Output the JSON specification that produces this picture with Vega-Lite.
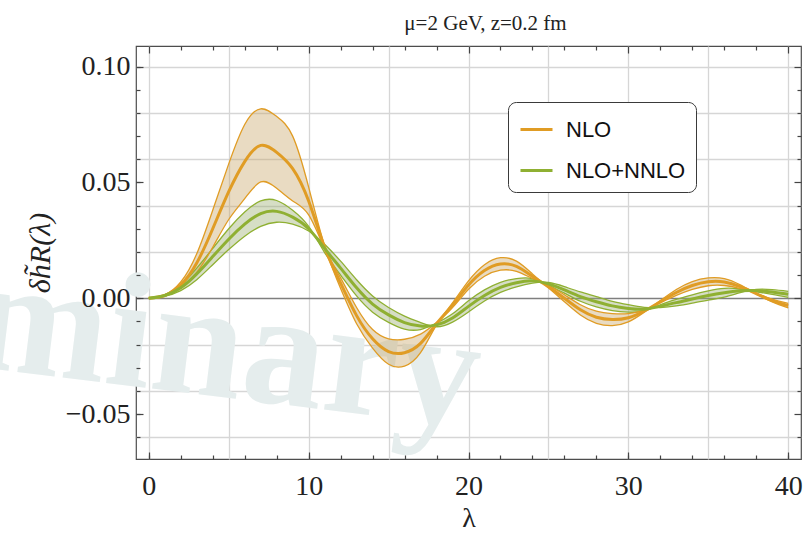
{
  "$schema": "https://vega.github.io/schema/vega-lite/v6.json",
  "width": 665,
  "height": 413,
  "autosize": {"type": "none"},
  "padding": {"left": 136, "top": 46, "right": 6, "bottom": 77},
  "background": "white",
  "title": {"text": "μ=2 GeV, z=0.2 fm", "font": "Liberation Serif", "fontSize": 21, "fontWeight": "normal", "color": "#222222", "offset": 11, "dx": 17},
  "config": {
    "view": {"stroke": "#4d4d4d", "strokeWidth": 1.2},
    "legend": {"orient": "none", "legendX": 372, "legendY": 56, "direction": "vertical",
      "symbolType": "stroke", "symbolSize": 1024, "symbolStrokeWidth": 3,
      "labelFont": "Liberation Sans", "labelFontSize": 22, "labelColor": "#111111", "labelOffset": 12,
      "rowPadding": 12, "padding": 10, "symbolOffset": 1,
      "strokeColor": "#3a3a3a", "fillColor": "white", "cornerRadius": 8}
  },
  "resolve": {"axis": {"x": "independent", "y": "independent"}},
  "data": {"values": [
    {"l":0,"s":"NLO","c":0,"a":0,"b":0},
    {"l":1,"s":"NLO","c":0.0012,"a":0.0015,"b":0.0009},
    {"l":2,"s":"NLO","c":0.0057,"a":0.0070,"b":0.0044},
    {"l":3,"s":"NLO","c":0.0152,"a":0.0192,"b":0.0112},
    {"l":4,"s":"NLO","c":0.0300,"a":0.0380,"b":0.0220},
    {"l":5,"s":"NLO","c":0.0460,"a":0.0580,"b":0.0340},
    {"l":6,"s":"NLO","c":0.0590,"a":0.0750,"b":0.0430},
    {"l":7,"s":"NLO","c":0.0660,"a":0.0818,"b":0.0502},
    {"l":8,"s":"NLO","c":0.0630,"a":0.0785,"b":0.0475},
    {"l":9,"s":"NLO","c":0.0560,"a":0.0700,"b":0.0420},
    {"l":10,"s":"NLO","c":0.0420,"a":0.0480,"b":0.0360},
    {"l":11,"s":"NLO","c":0.0220,"a":0.0225,"b":0.0215},
    {"l":12,"s":"NLO","c":0.0065,"a":0.0042,"b":0.0088},
    {"l":13,"s":"NLO","c":-0.0075,"a":-0.0110,"b":-0.0040},
    {"l":14,"s":"NLO","c":-0.0175,"a":-0.0215,"b":-0.0135},
    {"l":15,"s":"NLO","c":-0.0230,"a":-0.0285,"b":-0.0175},
    {"l":16,"s":"NLO","c":-0.0235,"a":-0.0293,"b":-0.0177},
    {"l":17,"s":"NLO","c":-0.0195,"a":-0.0235,"b":-0.0155},
    {"l":18,"s":"NLO","c":-0.0110,"a":-0.0115,"b":-0.0105},
    {"l":19,"s":"NLO","c":-0.0030,"a":-0.0020,"b":-0.0040},
    {"l":20,"s":"NLO","c":0.0057,"a":0.0075,"b":0.0039},
    {"l":21,"s":"NLO","c":0.0120,"a":0.0145,"b":0.0095},
    {"l":22,"s":"NLO","c":0.0148,"a":0.0175,"b":0.0121},
    {"l":23,"s":"NLO","c":0.0138,"a":0.0160,"b":0.0116},
    {"l":24,"s":"NLO","c":0.0095,"a":0.0105,"b":0.0085},
    {"l":25,"s":"NLO","c":0.0050,"a":0.0045,"b":0.0055},
    {"l":26,"s":"NLO","c":0.0000,"a":-0.0015,"b":0.0015},
    {"l":27,"s":"NLO","c":-0.0050,"a":-0.0072,"b":-0.0028},
    {"l":28,"s":"NLO","c":-0.0082,"a":-0.0108,"b":-0.0056},
    {"l":29,"s":"NLO","c":-0.0092,"a":-0.0118,"b":-0.0066},
    {"l":30,"s":"NLO","c":-0.0084,"a":-0.0102,"b":-0.0066},
    {"l":31,"s":"NLO","c":-0.0055,"a":-0.0060,"b":-0.0050},
    {"l":32,"s":"NLO","c":-0.0015,"a":-0.0010,"b":-0.0020},
    {"l":33,"s":"NLO","c":0.0025,"a":0.0038,"b":0.0012},
    {"l":34,"s":"NLO","c":0.0055,"a":0.0072,"b":0.0038},
    {"l":35,"s":"NLO","c":0.0071,"a":0.0088,"b":0.0054},
    {"l":36,"s":"NLO","c":0.0070,"a":0.0085,"b":0.0055},
    {"l":37,"s":"NLO","c":0.0050,"a":0.0058,"b":0.0042},
    {"l":38,"s":"NLO","c":0.0020,"a":0.0019,"b":0.0021},
    {"l":39,"s":"NLO","c":-0.0010,"a":-0.0016,"b":-0.0004},
    {"l":40,"s":"NLO","c":-0.0032,"a":-0.0042,"b":-0.0022},
    {"l":0,"s":"NLO+NNLO","c":0,"a":0,"b":0},
    {"l":1,"s":"NLO+NNLO","c":0.0012,"a":0.0015,"b":0.0009},
    {"l":2,"s":"NLO+NNLO","c":0.0045,"a":0.0057,"b":0.0033},
    {"l":3,"s":"NLO+NNLO","c":0.0105,"a":0.0130,"b":0.0080},
    {"l":4,"s":"NLO+NNLO","c":0.0180,"a":0.0215,"b":0.0145},
    {"l":5,"s":"NLO+NNLO","c":0.0255,"a":0.0300,"b":0.0210},
    {"l":6,"s":"NLO+NNLO","c":0.0320,"a":0.0372,"b":0.0268},
    {"l":7,"s":"NLO+NNLO","c":0.0365,"a":0.0420,"b":0.0310},
    {"l":8,"s":"NLO+NNLO","c":0.0375,"a":0.0422,"b":0.0328},
    {"l":9,"s":"NLO+NNLO","c":0.0350,"a":0.0380,"b":0.0320},
    {"l":10,"s":"NLO+NNLO","c":0.0300,"a":0.0310,"b":0.0290},
    {"l":11,"s":"NLO+NNLO","c":0.0215,"a":0.0197,"b":0.0233},
    {"l":12,"s":"NLO+NNLO","c":0.0130,"a":0.0100,"b":0.0160},
    {"l":13,"s":"NLO+NNLO","c":0.0045,"a":0.0010,"b":0.0080},
    {"l":14,"s":"NLO+NNLO","c":-0.0025,"a":-0.0060,"b":0.0010},
    {"l":15,"s":"NLO+NNLO","c":-0.0072,"a":-0.0104,"b":-0.0040},
    {"l":16,"s":"NLO+NNLO","c":-0.0105,"a":-0.0133,"b":-0.0077},
    {"l":17,"s":"NLO+NNLO","c":-0.0120,"a":-0.0135,"b":-0.0105},
    {"l":18,"s":"NLO+NNLO","c":-0.0115,"a":-0.0107,"b":-0.0123},
    {"l":19,"s":"NLO+NNLO","c":-0.0085,"a":-0.0067,"b":-0.0103},
    {"l":20,"s":"NLO+NNLO","c":-0.0035,"a":-0.0011,"b":-0.0059},
    {"l":21,"s":"NLO+NNLO","c":0.0012,"a":0.0036,"b":-0.0012},
    {"l":22,"s":"NLO+NNLO","c":0.0047,"a":0.0069,"b":0.0025},
    {"l":23,"s":"NLO+NNLO","c":0.0067,"a":0.0085,"b":0.0049},
    {"l":24,"s":"NLO+NNLO","c":0.0075,"a":0.0085,"b":0.0065},
    {"l":25,"s":"NLO+NNLO","c":0.0062,"a":0.0056,"b":0.0068},
    {"l":26,"s":"NLO+NNLO","c":0.0036,"a":0.0022,"b":0.0050},
    {"l":27,"s":"NLO+NNLO","c":0.0007,"a":-0.0013,"b":0.0027},
    {"l":28,"s":"NLO+NNLO","c":-0.0015,"a":-0.0037,"b":0.0007},
    {"l":29,"s":"NLO+NNLO","c":-0.0033,"a":-0.0053,"b":-0.0013},
    {"l":30,"s":"NLO+NNLO","c":-0.0044,"a":-0.0060,"b":-0.0028},
    {"l":31,"s":"NLO+NNLO","c":-0.0047,"a":-0.0055,"b":-0.0039},
    {"l":32,"s":"NLO+NNLO","c":-0.0034,"a":-0.0028,"b":-0.0040},
    {"l":33,"s":"NLO+NNLO","c":-0.0019,"a":-0.0005,"b":-0.0033},
    {"l":34,"s":"NLO+NNLO","c":-0.0003,"a":0.0015,"b":-0.0021},
    {"l":35,"s":"NLO+NNLO","c":0.0012,"a":0.0032,"b":-0.0008},
    {"l":36,"s":"NLO+NNLO","c":0.0024,"a":0.0043,"b":0.0005},
    {"l":37,"s":"NLO+NNLO","c":0.0032,"a":0.0040,"b":0.0024},
    {"l":38,"s":"NLO+NNLO","c":0.0033,"a":0.0028,"b":0.0038},
    {"l":39,"s":"NLO+NNLO","c":0.0027,"a":0.0017,"b":0.0037},
    {"l":40,"s":"NLO+NNLO","c":0.0017,"a":0.0004,"b":0.0030}
  ]},
  "layer": [
    {
      "data": {"values": [{"label": "Preliminary"}]},
      "mark": {"type": "text", "font": "Liberation Serif", "fontSize": 164, "fontWeight": "bold", "align": "right", "baseline": "alphabetic", "angle": 7, "color": "#e5eded"},
      "encoding": {
        "text": {"field": "label", "type": "nominal"},
        "x": {"datum": 20.3, "type": "quantitative", "scale": {"domain": [-0.8, 40.8], "nice": false, "zero": false}, "axis": null},
        "y": {"datum": -0.056, "type": "quantitative", "scale": {"domain": [-0.0694, 0.1089], "nice": false, "zero": false}, "axis": null}
      }
    },
    {
      "transform": [{"filter": "datum.s === 'NLO'"}],
      "mark": {"type": "area", "interpolate": "natural", "fill": "#c9a466", "fillOpacity": 0.4, "strokeWidth": 0},
      "encoding": {
        "x": {"field": "l", "type": "quantitative",
          "axis": {"orient": "bottom", "values": [0,5,10,15,20,25,30,35,40], "grid": true, "gridColor": "#d6d6d6", "gridWidth": 1.3, "domain": false, "ticks": false, "labels": false, "title": null, "zindex": 0}},
        "y": {"field": "a", "type": "quantitative",
          "axis": {"orient": "left", "values": [-0.06,-0.04,-0.02,0,0.02,0.04,0.06,0.08,0.1], "grid": true, "gridWidth": 1.3,
            "gridColor": {"condition": {"test": "datum.value === 0", "value": "#7f7f7f"}, "value": "#d6d6d6"},
            "domain": false, "ticks": false, "labels": false, "title": null, "zindex": 0}},
        "y2": {"field": "b"}
      }
    },
    {
      "transform": [{"filter": "datum.s === 'NLO+NNLO'"}],
      "mark": {"type": "area", "interpolate": "natural", "fill": "#99ad6e", "fillOpacity": 0.4, "strokeWidth": 0},
      "encoding": {
        "x": {"field": "l", "type": "quantitative", "axis": null},
        "y": {"field": "a", "type": "quantitative", "axis": null},
        "y2": {"field": "b"}
      }
    },
    {
      "mark": {"type": "line", "interpolate": "natural", "strokeWidth": 1.3},
      "encoding": {
        "x": {"field": "l", "type": "quantitative", "axis": {"orient": "bottom", "values": [0,2,4,6,8,10,12,14,16,18,20,22,24,26,28,30,32,34,36,38,40], "grid": false, "domain": false, "labels": false, "tickSize": -4, "tickColor": "#444444", "tickWidth": 1.2, "title": null, "zindex": 1}},
        "y": {"field": "a", "type": "quantitative", "axis": {"orient": "left", "values": [-0.06,-0.05,-0.04,-0.03,-0.02,-0.01,0,0.01,0.02,0.03,0.04,0.05,0.06,0.07,0.08,0.09,0.1], "grid": false, "domain": false, "labels": false, "tickSize": -4, "tickColor": "#444444", "tickWidth": 1.2, "title": null, "zindex": 1}},
        "color": {"field": "s", "type": "nominal", "scale": {"domain": ["NLO", "NLO+NNLO"], "range": ["#e09c24", "#8fb032"]}, "legend": {"title": null}}
      }
    },
    {
      "mark": {"type": "line", "interpolate": "natural", "strokeWidth": 1.3},
      "encoding": {
        "x": {"field": "l", "type": "quantitative", "axis": {"orient": "top", "values": [0,2,4,6,8,10,12,14,16,18,20,22,24,26,28,30,32,34,36,38,40], "grid": false, "domain": false, "labels": false,
          "tickSize": {"condition": {"test": "datum.value % 10 === 0", "value": -7}, "value": -4}, "tickColor": "#444444", "tickWidth": 1.2, "title": null, "zindex": 1}},
        "y": {"field": "b", "type": "quantitative", "axis": {"orient": "right", "values": [-0.06,-0.05,-0.04,-0.03,-0.02,-0.01,0,0.01,0.02,0.03,0.04,0.05,0.06,0.07,0.08,0.09,0.1], "grid": false, "domain": false, "labels": false,
          "tickSize": {"condition": {"test": "abs(round(datum.value*100)) % 5 === 0", "value": -7}, "value": -4}, "tickColor": "#444444", "tickWidth": 1.2, "title": null, "zindex": 1}},
        "color": {"field": "s", "type": "nominal", "legend": {"title": null}}
      }
    },
    {
      "mark": {"type": "line", "interpolate": "natural", "strokeWidth": 3},
      "encoding": {
        "x": {"field": "l", "type": "quantitative", "scale": {"domain": [-0.8, 40.8], "nice": false, "zero": false},
          "axis": {"orient": "bottom", "values": [0,10,20,30,40], "grid": false, "domain": false,
            "tickSize": -7, "tickColor": "#444444", "tickWidth": 1.2, "labelFlush": false, "labelOverlap": false,
            "labelFont": "Liberation Serif", "labelFontSize": 28, "labelColor": "#222222", "labelPadding": 20,
            "title": "λ", "titleFont": "Liberation Serif", "titleFontSize": 28, "titleFontWeight": "normal", "titleColor": "#222222", "titlePadding": 4, "zindex": 1}},
        "y": {"field": "c", "type": "quantitative", "scale": {"domain": [-0.0694, 0.1089], "nice": false, "zero": false},
          "axis": {"orient": "left", "values": [-0.05,0,0.05,0.1], "grid": false, "domain": false,
            "tickSize": -7, "tickColor": "#444444", "tickWidth": 1.2,
            "format": ".2f", "labelFlush": false, "labelOverlap": false,
            "labelFont": "Liberation Serif", "labelFontSize": 28, "labelColor": "#222222", "labelPadding": 13,
            "title": "δh̃R(λ)", "titleFont": "Liberation Serif", "titleFontSize": 30, "titleFontStyle": "italic", "titleFontWeight": "normal", "titleColor": "#222222", "titlePadding": 10, "zindex": 1}},
        "color": {"field": "s", "type": "nominal", "legend": {"title": null}}
      }
    }
  ]
}
